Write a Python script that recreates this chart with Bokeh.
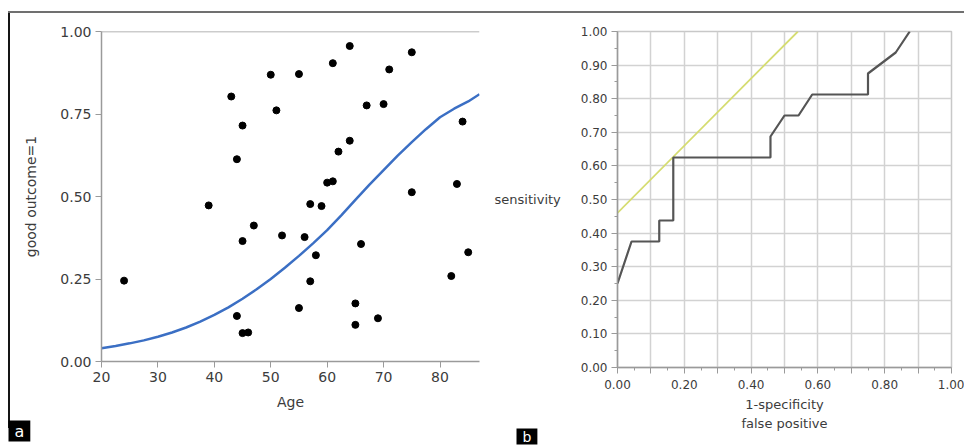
from bokeh.plotting import figure
from bokeh.layouts import row, column
from bokeh.models import FixedTicker, NumeralTickFormatter, Span, Title, Range1d
from bokeh.embed import file_html
from bokeh.resources import INLINE

FONT = "DejaVu Sans"
TXT = "#3c3c3c"
AX = "#9a9a9a"

# ---- panel a data ----
ages = [24, 39, 43, 44, 45, 45, 44, 45, 46, 47, 50, 51, 52, 55, 55, 56, 57, 57, 58, 59,
        60, 61, 61, 62, 64, 64, 65, 65, 66, 67, 69, 70, 71, 75, 75, 82, 83, 84, 85]
outcome = [0.245, 0.473, 0.803, 0.613, 0.715, 0.365, 0.138, 0.086, 0.088, 0.412, 0.869,
           0.761, 0.382, 0.871, 0.162, 0.377, 0.477, 0.243, 0.322, 0.471, 0.542, 0.546,
           0.904, 0.636, 0.956, 0.669, 0.176, 0.111, 0.356, 0.776, 0.131, 0.780, 0.885,
           0.937, 0.513, 0.259, 0.538, 0.727, 0.331]
curve_age = [20, 22.5, 25, 27.5, 30, 32.5, 35, 37.5, 40, 42.5, 45, 47.5, 50, 52.5, 55,
             57.5, 60, 62.5, 65, 67.5, 70, 72.5, 75, 77.5, 80, 82.5, 85, 87]
curve_prob = [0.040, 0.047, 0.055, 0.064, 0.075, 0.088, 0.103, 0.121, 0.141, 0.164, 0.190,
              0.219, 0.250, 0.284, 0.320, 0.358, 0.398, 0.443, 0.490, 0.536, 0.580, 0.624,
              0.665, 0.704, 0.740, 0.766, 0.788, 0.810]
age_ticks = [20, 30, 40, 50, 60, 70, 80]
prob_ticks = [0.0, 0.25, 0.5, 0.75, 1.0]

# ---- panel b data ----
fpr = [0.0, 0.042, 0.125, 0.125, 0.167, 0.167, 0.458, 0.458, 0.5, 0.542, 0.583, 0.75,
       0.75, 0.833, 0.875]
tpr = [0.25, 0.375, 0.375, 0.4375, 0.4375, 0.625, 0.625, 0.6875, 0.75, 0.75, 0.8125,
       0.8125, 0.875, 0.9375, 1.0]
tangent_fpr = [0.0, 0.54]
tangent_tpr = [0.46, 1.0]
roc_major = [0.0, 0.1, 0.2, 0.3, 0.4, 0.5, 0.6, 0.7, 0.8, 0.9, 1.0]
roc_minor = [0.05, 0.15, 0.25, 0.35, 0.45, 0.55, 0.65, 0.75, 0.85, 0.95]
roc_x_labels = {0.1: "", 0.3: "", 0.5: "", 0.7: "", 0.9: ""}


def style_axis(ax, size):
    ax.axis_line_color = AX
    ax.axis_line_width = 1.5
    ax.major_tick_line_color = AX
    ax.minor_tick_line_color = AX
    ax.major_label_text_font = FONT
    ax.major_label_text_font_size = size
    ax.major_label_text_color = TXT
    ax.axis_label_text_font = FONT
    ax.axis_label_text_font_style = "normal"
    ax.axis_label_text_color = TXT


def panel_tag(text, offset, standoff, size, pad_y):
    return Title(text=text, align="left", offset=offset, text_color="white",
                 background_fill_color="black", text_font=FONT, text_font_size=size,
                 text_font_style="normal",
                 padding=dict(left=6, right=6, top=pad_y, bottom=pad_y),
                 standoff=standoff, vertical_align="bottom")


# ---------------- panel a ----------------
pa = figure(width=488, height=447, x_range=Range1d(20, 87), y_range=Range1d(0, 1),
            output_backend="svg", toolbar_location=None,
            min_border_left=101, min_border_right=9, min_border_top=31, min_border_bottom=85)
pa.border_fill_color = None
pa.outline_line_color = None
pa.grid.visible = False
pa.add_layout(Span(location=1.0, dimension="width", line_color=AX, line_width=1.5))
pa.line(curve_age, curve_prob, line_color="#3b6fc4", line_width=2.5)
pa.scatter(ages, outcome, size=7, color="black")

for ax in (pa.xaxis[0], pa.yaxis[0]):
    style_axis(ax, "14px")
    ax.major_tick_out = 6
    ax.major_tick_in = 0
    ax.minor_tick_out = 0
    ax.minor_tick_in = 0
    ax.axis_label_text_font_size = "14px"
pa.xaxis.ticker = FixedTicker(ticks=age_ticks)
pa.yaxis.ticker = FixedTicker(ticks=prob_ticks)
pa.yaxis.formatter = NumeralTickFormatter(format="0.00")
pa.xaxis.axis_label = "Age"
pa.yaxis.axis_label = "good outcome=1"
pa.xaxis.major_label_standoff = 4
pa.yaxis.major_label_standoff = 4
pa.xaxis.axis_label_standoff = 9
pa.yaxis.axis_label_standoff = 18
pa.add_layout(panel_tag("a", -93, 12, "16px", 1), "below")

# ---------------- panel b ----------------
pb = figure(width=476, height=447, x_range=Range1d(0, 1), y_range=Range1d(0, 1),
            output_backend="svg", toolbar_location=None,
            min_border_left=129, min_border_right=13, min_border_top=31, min_border_bottom=80)
pb.border_fill_color = None
pb.outline_line_color = "#c8c8c8"
pb.outline_line_width = 1.5
pb.grid.grid_line_color = "#d2d2d2"
pb.grid.grid_line_width = 1.5
pb.line(tangent_fpr, tangent_tpr, line_color="#d5dc70", line_width=1.8)
pb.line(fpr, tpr, line_color="#555555", line_width=2.2)

for ax in (pb.xaxis[0], pb.yaxis[0]):
    style_axis(ax, "12px")
    ax.ticker = FixedTicker(ticks=roc_major, minor_ticks=roc_minor)
    ax.formatter = NumeralTickFormatter(format="0.00")
    ax.major_tick_out = 6
    ax.major_tick_in = 0
    ax.minor_tick_out = 3
    ax.minor_tick_in = 0
    ax.axis_label_text_font_size = "13px"
pb.xaxis.major_label_overrides = roc_x_labels
pb.xaxis.axis_label = "1-specificity\nfalse positive"
pb.xaxis.axis_label_text_line_height = 1.3
pb.yaxis.axis_label = "sensitivity"
pb.yaxis.axis_label_orientation = "horizontal"
pb.xaxis.major_label_standoff = 6
pb.yaxis.major_label_standoff = 4
pb.xaxis.axis_label_standoff = 5
pb.yaxis.axis_label_standoff = 17
pb.add_layout(panel_tag("b", -101, -16, "14px", 0), "below")

frame_css = ("linear-gradient(#707070, #707070) 8px 11px / calc(100% - 8px) 2px no-repeat, "
             "linear-gradient(#151515, #151515) 8px 11px / 2px 417px no-repeat, #ffffff")
layout = row(column(pa), column(pb), spacing=0, styles={"background": frame_css})
open("out.html", "w").write(file_html(layout, INLINE))
